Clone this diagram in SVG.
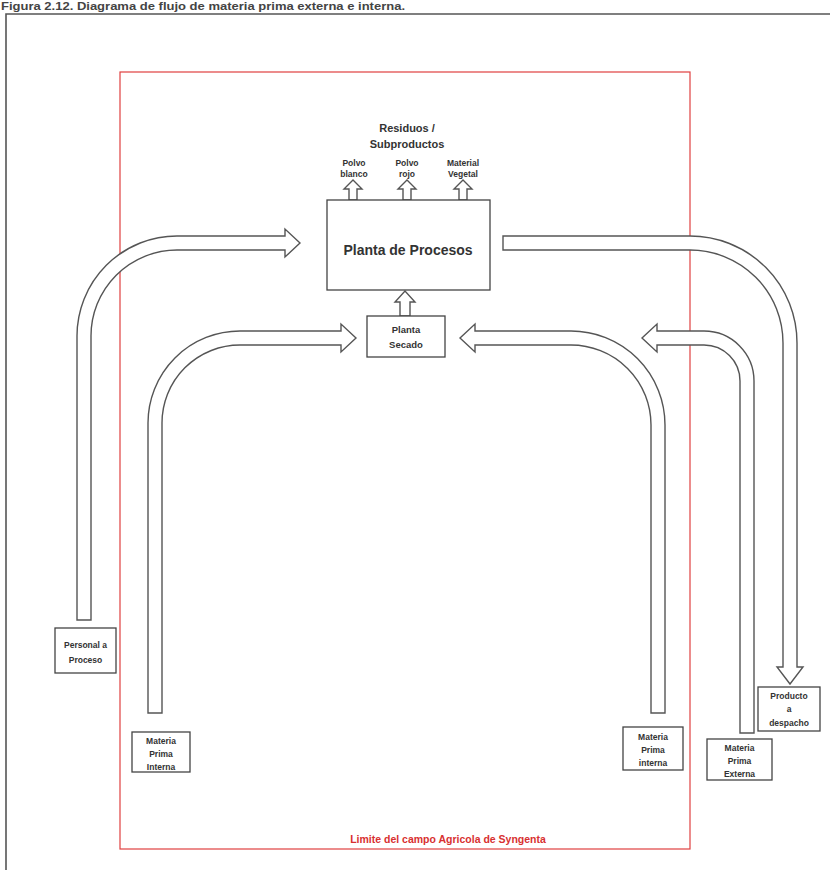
<svg xmlns="http://www.w3.org/2000/svg" width="830" height="870" viewBox="0 0 830 870">
<style>
.arr{fill:#fff;stroke:#555;stroke-width:1.4;stroke-linejoin:miter}
.box{fill:#fff;stroke:#444;stroke-width:1.3}
.t{font-family:"Liberation Sans",Arial,sans-serif;font-weight:bold;fill:#333;text-anchor:middle}
.s{font-size:8.5px}
</style>
<rect width="830" height="870" fill="#fff"/>
<text x="1" y="10" font-family="Liberation Sans,Arial,sans-serif" font-weight="bold" font-size="11.5" fill="#444" textLength="404" lengthAdjust="spacingAndGlyphs">Figura 2.12. Diagrama de flujo de materia prima externa e interna.</text>
<path d="M6,870 V14 H830" fill="none" stroke="#555" stroke-width="1.6"/>
<g id="limite">
<rect x="120" y="72" width="570" height="777" fill="none" stroke="#e04040" stroke-width="1.2"/>
<text x="448" y="843" class="t" style="font-size:10.5px;fill:#d83030">Limite del campo Agricola de Syngenta</text>
</g>
<g id="connectors">
<path class="arr" d="M77,620 V336 A100,100 0 0 1 177,236 H285 V229 L300,243 L285,257 V250 H177 A86,86 0 0 0 91,336 V620 Z"/>
<path class="arr" d="M148,713 V423 A92,92 0 0 1 240,331 H341 V324 L356,338 L341,352 V345 H240 A78,78 0 0 0 162,423 V713 Z"/>
<path class="arr" d="M665,713 V425 A94,94 0 0 0 571,331 H475 V324 L460,338 L475,352 V345 H571 A80,80 0 0 1 651,425 V713 Z"/>
<path class="arr" d="M754,733 V381 A50,50 0 0 0 704,331 H657 V324 L642,338 L657,352 V345 H704 A36,36 0 0 1 740,381 V733 Z"/>
<path class="arr" d="M503,236 H690 A107,107 0 0 1 797,343 V667 H803 L790,684 L777,667 H783 V343 A93,93 0 0 0 690,250 H503 Z"/>
<path class="arr" d="M349,200 V189 H344 L353,180 L362,189 H357 V200 Z"/>
<path class="arr" d="M403,200 V189 H398 L407,180 L416,189 H411 V200 Z"/>
<path class="arr" d="M459,200 V189 H454 L463,180 L472,189 H467 V200 Z"/>
<path class="arr" d="M400,316 V302 H395 L405,291 L415,302 H410 V316 Z"/>
</g>
<g id="residuos">
<text x="407" y="132" class="t" style="font-size:11px">Residuos /</text>
<text x="407" y="148" class="t" style="font-size:11px">Subproductos</text>
</g>
<g id="polvo-blanco"><text x="354" y="166" class="t s">Polvo</text><text x="354" y="177" class="t s">blanco</text></g>
<g id="polvo-rojo"><text x="407" y="166" class="t s">Polvo</text><text x="407" y="177" class="t s">rojo</text></g>
<g id="material-vegetal"><text x="463" y="166" class="t s">Material</text><text x="463" y="177" class="t s">Vegetal</text></g>
<g id="planta-procesos">
<rect class="box" x="327" y="200" width="163" height="90"/>
<text x="408" y="255" class="t" style="font-size:14px">Planta de Procesos</text>
</g>
<g id="planta-secado">
<rect class="box" x="367" y="316" width="78" height="41"/>
<text x="406" y="333" class="t" style="font-size:9.5px">Planta</text>
<text x="406" y="348" class="t" style="font-size:9.5px">Secado</text>
</g>
<g id="personal">
<rect class="box" x="55" y="628" width="61" height="45"/>
<text x="85.5" y="648" class="t s">Personal a</text>
<text x="85.5" y="663" class="t s">Proceso</text>
</g>
<g id="mp-interna-izq">
<rect class="box" x="132" y="732" width="58" height="40"/>
<text x="161" y="744" class="t s">Materia</text>
<text x="161" y="757" class="t s">Prima</text>
<text x="161" y="770" class="t s">Interna</text>
</g>
<g id="mp-interna-der">
<rect class="box" x="623" y="727" width="60" height="43"/>
<text x="653" y="740" class="t s">Materia</text>
<text x="653" y="753" class="t s">Prima</text>
<text x="653" y="766" class="t s">interna</text>
</g>
<g id="mp-externa">
<rect class="box" x="707" y="739" width="65" height="41"/>
<text x="739.5" y="751" class="t s">Materia</text>
<text x="739.5" y="764" class="t s">Prima</text>
<text x="739.5" y="777" class="t s">Externa</text>
</g>
<g id="producto">
<rect class="box" x="758" y="687" width="62" height="44"/>
<text x="789" y="699" class="t s">Producto</text>
<text x="789" y="712" class="t s">a</text>
<text x="789" y="726" class="t s">despacho</text>
</g>
</svg>
